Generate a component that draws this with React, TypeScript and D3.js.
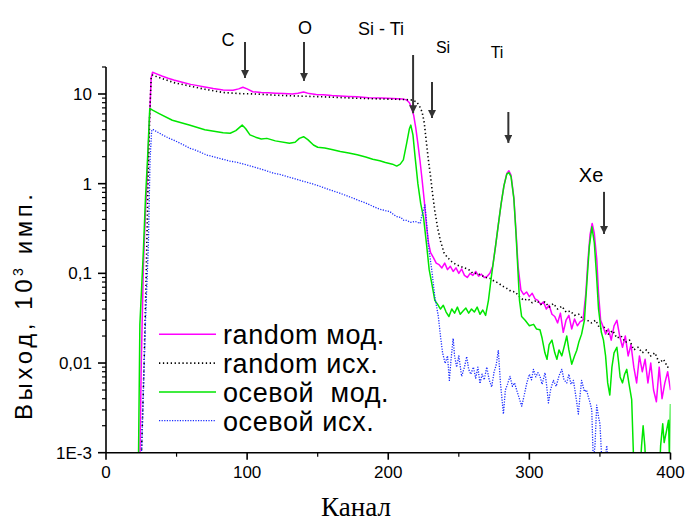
import React from "react";
import * as d3 from "d3";

// [channel, yield (10^3 counts)]
const randomMod: [number, number][] = [
  [24, 0.0008], [25, 0.01], [26.5, 0.12], [28, 0.5], [29, 1.0], [30, 2.5], [31, 6], [32, 15], [33, 17.5],
  [35, 17], [40, 15.8], [44, 15], [48, 14.3], [54, 13.5], [60, 12.8], [65, 12.4], [70, 12], [76, 11.5],
  [83, 11.1], [90, 11.0], [94, 11.4], [97, 11.9], [100, 11.4], [104, 10.6], [110, 10.4], [115, 10.3],
  [120, 10.2], [126, 10.1], [132, 10.0], [136, 10.2], [140, 10.5], [144, 10.1], [149, 9.9], [154, 9.8],
  [160, 9.6], [166, 9.5], [172, 9.4], [178, 9.3], [186, 9.1], [195, 9.0], [203, 8.9], [210, 8.8],
  [213, 8.6], [215, 8.0], [216.5, 7.0], [218, 5.8], [219.5, 4.2], [221, 2.8], [222.5, 1.8], [224, 1.1],
  [225.5, 0.65], [227, 0.35], [228.5, 0.22], [230, 0.17], [232, 0.15], [234, 0.13], [236, 0.125],
  [238, 0.115], [240, 0.13], [242, 0.11], [244, 0.12], [246, 0.105], [248, 0.115], [250, 0.1],
  [252, 0.112], [254, 0.095], [256, 0.09], [258, 0.1], [260, 0.095], [262, 0.105], [264, 0.093],
  [266, 0.098], [268, 0.09], [270, 0.092], [272, 0.1], [274, 0.12], [276, 0.2], [278, 0.35], [280, 0.6],
  [282, 0.95], [284, 1.3], [285.5, 1.39], [287, 1.25], [289, 0.7], [290.5, 0.3], [292, 0.12], [294, 0.065],
  [296, 0.058], [298, 0.062], [300, 0.055], [302, 0.06], [304, 0.052], [306, 0.05], [308, 0.045],
  [310, 0.048], [312, 0.04], [314, 0.044], [316, 0.035], [318, 0.033], [320, 0.028], [322, 0.036],
  [324, 0.022], [326, 0.03], [328, 0.034], [330, 0.024], [332, 0.031], [334, 0.026], [336, 0.029],
  [338, 0.03], [340, 0.06], [341.5, 0.14], [343, 0.27], [344.5, 0.36], [346, 0.28], [347.8, 0.14],
  [349, 0.06], [350.5, 0.03], [352, 0.026], [354, 0.021], [356, 0.024], [358, 0.018], [360, 0.026],
  [362, 0.03], [364, 0.02], [366, 0.015], [368, 0.02], [370, 0.012], [372, 0.016], [374, 0.009],
  [376, 0.006], [378, 0.012], [380, 0.008], [382, 0.011], [384, 0.006], [386, 0.01], [388, 0.005],
  [390, 0.0037], [392, 0.009], [394, 0.004], [396, 0.006], [398, 0.008], [400, 0.005],
];

const randomIsh: [number, number][] = [
  [25, 0.0008], [27, 0.01], [28.5, 0.1], [29.5, 0.6], [30.2, 1.84], [31, 6], [32, 15], [33, 16.3],
  [36, 15.6], [40, 14.8], [48, 13.4], [55, 12.7], [60, 12.2], [70, 11.3], [83, 10.4], [95, 10.1],
  [107, 10.0], [120, 9.7], [135, 9.5], [154, 9.3], [175, 9.0], [195, 8.8], [210, 8.7], [216, 8.6],
  [220, 8.2], [222, 7.4], [224, 6.3], [225.5, 4.8], [227, 2.9], [228.5, 1.8], [230, 1.2], [231.5, 0.75],
  [233, 0.5], [235, 0.32], [237, 0.23], [239.5, 0.17], [242, 0.15], [245, 0.135], [248, 0.125],
  [251, 0.12], [254, 0.115], [257, 0.11], [260, 0.1], [263, 0.1], [266, 0.095], [269, 0.09], [272, 0.088],
  [275, 0.082], [278, 0.078], [281, 0.072], [284, 0.068], [287, 0.063], [290, 0.062], [293, 0.055],
  [296, 0.05], [299, 0.052], [302, 0.047], [305, 0.05], [308, 0.045], [311, 0.048], [314, 0.042],
  [317, 0.046], [320, 0.04], [323, 0.043], [326, 0.037], [329, 0.038], [332, 0.034], [335, 0.035],
  [338, 0.031], [341, 0.03], [344, 0.028], [347, 0.03], [350, 0.024], [353, 0.025], [356, 0.021],
  [359, 0.023], [362, 0.019], [365, 0.02], [368, 0.017], [371, 0.018], [374, 0.014], [377, 0.015],
  [380, 0.013], [383, 0.014], [386, 0.012], [389, 0.013], [392, 0.01], [395, 0.011], [398, 0.009],
  [400, 0.0095],
];

const osevoyMod: [number, number][] = [
  [23, 0.0008], [24, 0.027], [26.5, 0.18], [28, 0.7], [29.5, 2.0], [31, 6.9], [33, 6.6], [38, 6.0],
  [47, 5.1], [59, 4.5], [70, 4.0], [83, 3.7], [88, 3.65], [92, 3.9], [96.5, 4.5], [99, 4.1], [102, 3.5],
  [106, 3.3], [110, 3.15], [114, 3.2], [120, 3.0], [130, 2.82], [134, 2.9], [137, 3.2], [140, 3.34],
  [143, 3.1], [147, 2.7], [150, 2.55], [155, 2.5], [160, 2.4], [166, 2.28], [172, 2.2], [178, 2.1],
  [184, 1.98], [189, 1.87], [194, 1.8], [198, 1.72], [203, 1.65], [206, 1.57], [208.5, 1.65],
  [210.7, 1.84], [213, 2.8], [215, 4.1], [216, 4.5], [217.5, 3.5], [219, 2.0], [221, 1.0], [223, 0.6],
  [225, 0.42], [227, 0.22], [229, 0.11], [231, 0.075], [233, 0.05], [235, 0.045], [237, 0.04],
  [239, 0.044], [241, 0.037], [243, 0.033], [245, 0.04], [247, 0.036], [249, 0.042], [251, 0.035],
  [253, 0.038], [255, 0.041], [257, 0.036], [259, 0.04], [261, 0.037], [263, 0.042], [265, 0.035],
  [267, 0.039], [269, 0.034], [271, 0.05], [273, 0.09], [276, 0.2], [278, 0.35], [280, 0.6], [282, 0.95],
  [284, 1.28], [285.5, 1.33], [287, 1.2], [289, 0.68], [290.5, 0.28], [292, 0.1], [293, 0.05],
  [294.5, 0.033], [297, 0.03], [300, 0.026], [303, 0.027], [305, 0.024], [307.5, 0.0235], [309, 0.019],
  [311, 0.013], [312.5, 0.011], [314, 0.016], [316, 0.018], [318, 0.013], [319.5, 0.011], [321, 0.014],
  [323, 0.012], [325, 0.016], [326.5, 0.02], [328, 0.014], [330, 0.0097], [332, 0.012], [333.6, 0.0139],
  [335, 0.017], [337, 0.021], [339, 0.03], [341, 0.09], [342.5, 0.2], [344.3, 0.33], [346, 0.22],
  [347.5, 0.1], [349, 0.04], [351, 0.022], [352.5, 0.018], [354, 0.012], [355.5, 0.006], [357, 0.0044],
  [358.5, 0.009], [360, 0.013], [362, 0.015], [363.3, 0.01], [364.3, 0.007], [366, 0.006], [367.5, 0.0075],
  [369, 0.0085], [370.5, 0.006], [372.5, 0.0039], [373.7, 0.001], [375, 0.0005], [378, 0.0005],
  [379.5, 0.0012], [380.6, 0.002], [381.8, 0.0012], [383, 0.0005], [386, 0.0005], [389, 0.0005],
  [392, 0.0005], [393, 0.0012], [394.5, 0.0021], [395.5, 0.0013], [397, 0.0017], [398.6, 0.0023],
  [399.3, 0.0008], [400, 0.0035],
];

const osevoyIsh: [number, number][] = [
  [25, 0.0008], [26.5, 0.005], [28, 0.03], [30, 0.2], [31.2, 1.84], [32.4, 3.98], [33.5, 4.0], [36, 3.8],
  [40, 3.5], [44, 3.25], [47.7, 3.07], [52, 2.85], [56, 2.65], [59.5, 2.48], [64, 2.35], [68, 2.2],
  [71.3, 2.09], [76, 2.0], [80, 1.92], [83, 1.87], [88, 1.78], [92, 1.74], [97, 1.66], [102, 1.58],
  [107, 1.5], [112, 1.42], [118.6, 1.31], [124, 1.26], [130, 1.18], [135, 1.12], [140, 1.06], [146, 1.0],
  [152, 0.93], [158, 0.86], [163, 0.81], [166, 0.78], [172, 0.72], [178, 0.66], [184, 0.61], [189, 0.56],
  [194, 0.52], [198, 0.5], [201, 0.49], [204, 0.45], [206, 0.43], [209, 0.42], [211, 0.39], [213, 0.39],
  [216, 0.37], [219, 0.38], [222.5, 0.36], [224, 0.45], [226, 0.58], [227, 0.4], [228.5, 0.2],
  [230.8, 0.11], [233, 0.055], [235.5, 0.033], [237, 0.02], [238.5, 0.013], [240.3, 0.0099], [242, 0.012],
  [243.3, 0.0064], [244.5, 0.011], [246, 0.0188], [247, 0.012], [248.5, 0.009], [250, 0.012],
  [252, 0.0071], [254, 0.009], [255.6, 0.0118], [257, 0.0085], [258.5, 0.0075], [260.3, 0.009],
  [262, 0.0068], [263.5, 0.009], [265, 0.0059], [266.5, 0.0075], [268, 0.0065], [269.8, 0.009],
  [271.5, 0.0065], [273.3, 0.0054], [275, 0.008], [276.5, 0.0095], [278, 0.0139], [279.5, 0.006],
  [281.6, 0.0027], [283, 0.005], [284.5, 0.0058], [286.3, 0.0071], [288, 0.0055], [289.5, 0.006],
  [291, 0.005], [292.5, 0.0042], [294.6, 0.0033], [296.5, 0.0045], [298.2, 0.006], [300, 0.0075],
  [301.5, 0.0065], [302.9, 0.0085], [304.5, 0.007], [306, 0.0078], [307.6, 0.0071], [309, 0.0058],
  [311.1, 0.0078], [312.3, 0.0055], [313.5, 0.0036], [315, 0.005], [317, 0.0064], [319, 0.0055],
  [321, 0.0072], [323, 0.0085], [324.5, 0.0065], [326.5, 0.006], [328, 0.0075], [329.5, 0.0058],
  [331.2, 0.0064], [333, 0.0042], [334.7, 0.0027], [336, 0.0045], [337, 0.0064], [339, 0.0048],
  [340.5, 0.005], [341.8, 0.0042], [343, 0.0036], [344.2, 0.003], [345.3, 0.0008], [346.5, 0.0012],
  [347.7, 0.0034], [349, 0.0025], [350, 0.0021], [351.2, 0.0009], [352.5, 0.0006], [353.5, 0.0008],
  [354.8, 0.0012], [356, 0.0007],
];

const legendLabels = ["random мод.", "random исх.", "осевой  мод.", "осевой исх."];
const yTickValues = [0.001, 0.01, 0.1, 1, 10];
const yTickLabels = ["1E-3", "0,01", "0,1", "1", "10"];
const xTickValues = [0, 100, 200, 300, 400];

// arrows: channel, tip value, tail value; label at (labelCh, labelVal)
const peaks = [
  { label: "C", ch: 98.5, tip: 15.1, tail: 38, labelCh: 86.5, labelVal: 40, size: 18 },
  { label: "O", ch: 140.3, tip: 14.0, tail: 38, labelCh: 141, labelVal: 54.5, size: 18 },
  { label: "Si - Ti", ch: 217.6, tip: 6.1, tail: 27.2, labelCh: 194.9, labelVal: 53, size: 18 },
  { label: "Si", ch: 231, tip: 5.4, tail: 13.6, labelCh: 238.8, labelVal: 33.4, size: 16 },
  { label: "Ti", ch: 285.1, tip: 2.85, tail: 6.3, labelCh: 277.1, labelVal: 29.4, size: 16 },
  { label: "Xe", ch: 352.9, tip: 0.275, tail: 0.81, labelCh: 343.7, labelVal: 1.25, size: 20 },
];

const sans = "'Liberation Sans', Arial, sans-serif";

export default function App() {
  const width = 685;
  const height = 523;
  const x = d3.scaleLinear().domain([0, 400]).range([106, 670.5]);
  const y = d3.scaleLog().domain([0.001, 20]).range([452.7, 67]);

  const line = d3
    .line<[number, number]>()
    .x((d) => x(d[0]))
    .y((d) => y(d[1]));

  const series = [
    { data: randomMod, color: "#ff00ff", width: 1.5, dash: undefined as string | undefined },
    { data: randomIsh, color: "#000000", width: 1.6, dash: "1.3 2.6" },
    { data: osevoyMod, color: "#00e600", width: 1.5, dash: undefined },
    { data: osevoyIsh, color: "#1a2cff", width: 1.3, dash: "1.2 1.4" },
  ];

  const minorY: number[] = [];
  for (let e = -3; e <= 1; e++) {
    for (let m = 2; m <= 9; m++) {
      const v = m * Math.pow(10, e);
      if (v <= 20) minorY.push(v);
    }
  }
  const minorX = [50, 150, 250, 350];
  const [x0, x1] = x.range();
  const [yb, yt] = y.range();

  return (
    <svg width={width} height={height} style={{ position: "absolute", left: 0, top: 0 }}>
      <rect width={width} height={height} fill="#fff" />
      <defs>
        <clipPath id="plot">
          <rect x={x0} y={0} width={x1 - x0} height={yb} />
        </clipPath>
        <marker id="arr" viewBox="0 0 10 10" refX="10" refY="5" markerWidth="4" markerHeight="4" orient="auto">
          <path d="M0,0 L10,5 L0,10 z" fill="#333" />
        </marker>
      </defs>

      <g clipPath="url(#plot)">
        {series.map((s, i) => (
          <path key={i} d={line(s.data) || ""} fill="none" stroke={s.color} strokeWidth={s.width}
            strokeDasharray={s.dash} strokeLinejoin="round" />
        ))}
      </g>

      {/* axes */}
      <g stroke="#000" strokeWidth={1.6}>
        <line x1={x0} x2={x0} y1={yt} y2={yb} />
        <line x1={x0} x2={x1} y1={yb} y2={yb} />
        {yTickValues.map((v) => (
          <line key={v} x1={x0 - 8} x2={x0} y1={y(v)} y2={y(v)} />
        ))}
        {minorY.map((v) => (
          <line key={v} x1={x0 - 4} x2={x0} y1={y(v)} y2={y(v)} strokeWidth={1.2} />
        ))}
        {xTickValues.map((v) => (
          <line key={v} x1={x(v)} x2={x(v)} y1={yb} y2={yb + 7} />
        ))}
        {minorX.map((v) => (
          <line key={v} x1={x(v)} x2={x(v)} y1={yb} y2={yb + 4} strokeWidth={1.2} />
        ))}
      </g>
      <g fontFamily={sans} fontSize={17} fill="#000">
        {yTickValues.map((v, i) => (
          <text key={v} x={x0 - 14} y={y(v)} textAnchor="end" dy="0.35em">{yTickLabels[i]}</text>
        ))}
        {xTickValues.map((v) => (
          <text key={v} x={x(v)} y={yb + 25} textAnchor="middle">{v}</text>
        ))}
      </g>

      {/* axis titles */}
      <text transform="translate(32,307) rotate(-90)" fontFamily={sans} fontSize={24} textAnchor="middle"
        textLength={226} lengthAdjust="spacing">
        Выход, 10<tspan dy="-9" fontSize={14}>3</tspan><tspan dy="9"> имп.</tspan>
      </text>
      <text x={356} y={516} fontFamily="'Liberation Serif', 'Times New Roman', serif" fontSize={27} textAnchor="middle">
        Канал
      </text>

      {/* peak annotations */}
      <g>
        {peaks.map((p) => (
          <g key={p.label}>
            <line x1={x(p.ch)} x2={x(p.ch)} y1={y(p.tail)} y2={y(p.tip)} stroke="#333" strokeWidth={2}
              markerEnd="url(#arr)" />
            <text x={x(p.labelCh)} y={y(p.labelVal)} textAnchor="middle" dy="0.35em" fontFamily={sans}
              fontSize={p.size}>{p.label}</text>
          </g>
        ))}
      </g>

      {/* legend */}
      <g fontFamily={sans} fontSize={27} letterSpacing={0.6}>
        {legendLabels.map((t, i) => {
          const ly = 334.3 + i * 28.8;
          const s = series[i];
          return (
            <g key={t}>
              <line x1={159} x2={216} y1={ly} y2={ly} stroke={s.color} strokeWidth={s.width}
                strokeDasharray={s.dash} />
              <text x={223} y={ly + 10} style={{ whiteSpace: "pre" }}>{t}</text>
            </g>
          );
        })}
      </g>
    </svg>
  );
}
